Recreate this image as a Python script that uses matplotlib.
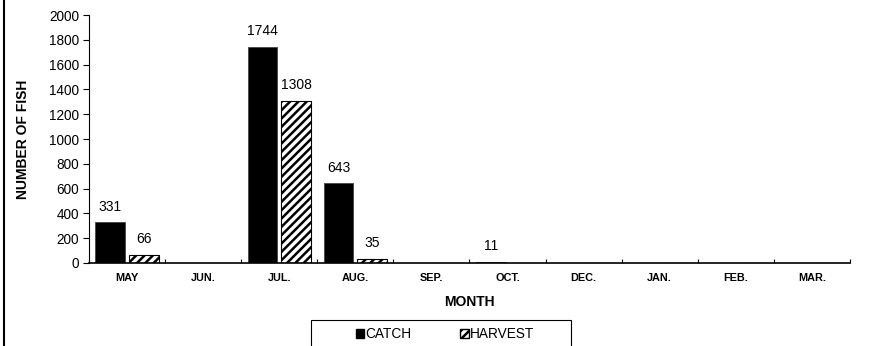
import numpy as np
import matplotlib.pyplot as plt
from matplotlib.lines import Line2D
from matplotlib.patches import Rectangle, Patch

plt.rcParams['font.family'] = ['Liberation Sans', 'DejaVu Sans']
plt.rcParams['hatch.linewidth'] = 1.8

# data
months = ["MAY", "JUN.", "JUL.", "AUG.", "SEP.", "OCT.", "DEC.", "JAN.", "FEB.", "MAR."]
catch = [331, 0, 1744, 643, 0, 11, 0, 0, 0, 0]
harvest = [66, 0, 1308, 35, 0, 0, 0, 0, 0, 0]

fig = plt.figure(figsize=(8.69, 3.46), dpi=100)
ax = fig.add_axes([0.1024, 0.2399, 0.8756, 0.7167])

x = np.arange(len(months))
w = 0.39
off = 0.22
b1 = ax.bar(x - off, catch, w, color="black", edgecolor="#444444", linewidth=0.6)
b2 = ax.bar(x + off, harvest, w, color="white", edgecolor="black",
            hatch="////", linewidth=0.8)

for bars, vals in ((b1, catch), (b2, harvest)):
    for r, v in zip(bars, vals):
        if v > 0:
            ax.annotate(str(v), (r.get_x() + r.get_width() / 2, v),
                        xytext=(0, 6), textcoords="offset points",
                        ha="center", va="bottom", fontsize=10)

ax.set_xlim(-0.5, len(months) - 0.5)
ax.set_ylim(0, 2000)
ax.set_yticks(range(0, 2001, 200))
ax.tick_params(axis="y", labelsize=9.8, length=4, width=0.8, direction="out", pad=3)

ax.set_xticks(x)
ax.set_xticklabels(months, fontsize=7.8, fontweight="bold")
ax.set_xticks(np.arange(-0.5, len(months)), minor=True)
ax.tick_params(axis="x", which="major", length=0, pad=7)
ax.tick_params(axis="x", which="minor", length=3, width=0.8, direction="in")

for s in ("top", "right"):
    ax.spines[s].set_visible(False)
ax.spines["left"].set_linewidth(0.8)
ax.spines["bottom"].set_linewidth(1.2)

ax.set_ylabel("NUMBER OF FISH", fontsize=10, fontweight="bold", labelpad=14)
ax.set_xlabel("MONTH", fontsize=10, fontweight="bold", labelpad=9)

# legend box, cut off at the bottom like the original
fig.patches.append(Rectangle((311 / 869, -0.1), 260 / 869, 0.1 + 26 / 346,
                             transform=fig.transFigure, facecolor="white",
                             edgecolor="black", linewidth=0.8))
handles = [Patch(facecolor="black", edgecolor="black"),
           Patch(facecolor="white", edgecolor="black", hatch="////")]
fig.legend(handles, ["CATCH", "HARVEST"], loc="center", ncol=2,
           bbox_to_anchor=(445 / 869, 1 - 334 / 346), frameon=False,
           fontsize=9.8, handlelength=0.6, handleheight=0.6,
           handletextpad=0.1, columnspacing=3.6)

# frame line at the left edge
fig.add_artist(Line2D([4 / 869, 4 / 869], [0, 1], transform=fig.transFigure,
                      color="black", linewidth=1.5))

fig.savefig("out.png", dpi=100)
